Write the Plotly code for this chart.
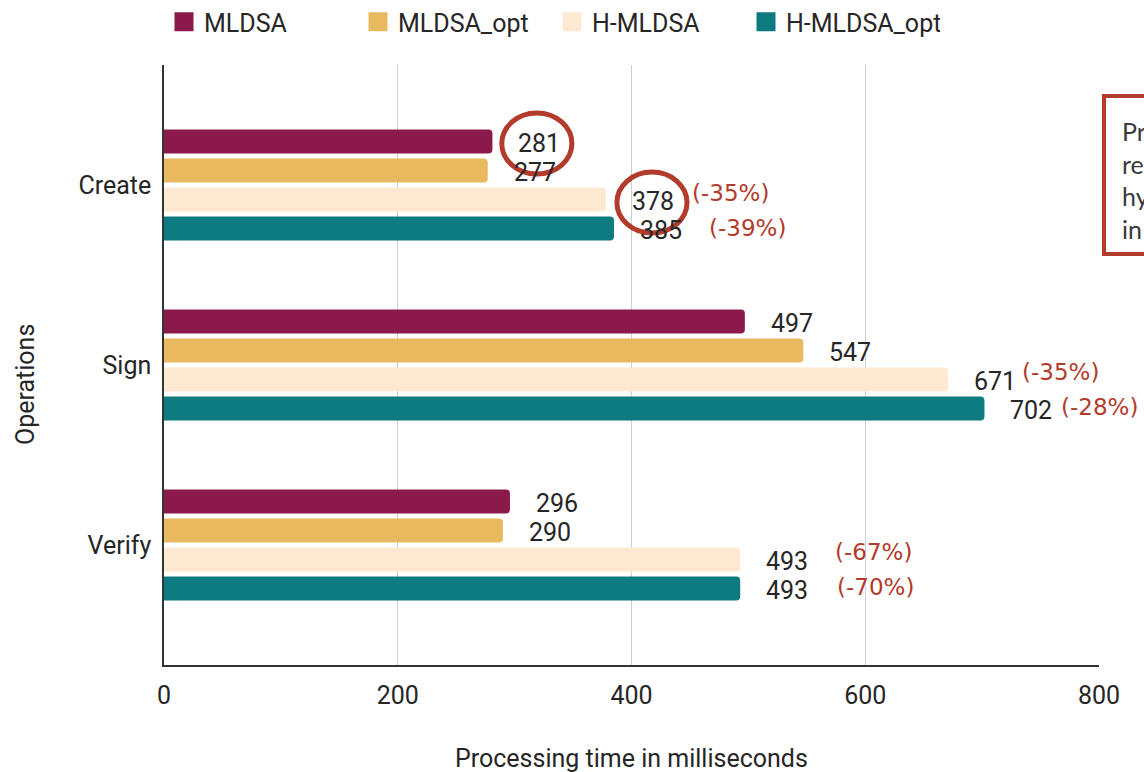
import plotly.graph_objects as go

# Processing time (ms) per operation and implementation
operations = ["Create", "Sign", "Verify"]
series_names = ["MLDSA", "MLDSA_opt", "H-MLDSA", "H-MLDSA_opt"]
mldsa = [281, 497, 296]
mldsa_opt = [277, 547, 290]
h_mldsa = [378, 671, 493]
h_mldsa_opt = [385, 702, 493]

# Relative overhead notes for the hybrid variants
h_mldsa_pct = ["(-35%)", "(-35%)", "(-67%)"]
h_mldsa_opt_pct = ["(-39%)", "(-28%)", "(-70%)"]

x_ticks = [0, 200, 400, 600, 800]

colors = ["#8B1A4B", "#E9B960", "#FDE8D2", "#0E7B80"]
series_values = [mldsa, mldsa_opt, h_mldsa, h_mldsa_opt]

RED = "#B23B2C"
TEXT = "#262626"
FONT = "Roboto"
NOTE_FONT = "DejaVu Sans"
BOX_FONT = "Lato"
FS = 25

fig = go.Figure()

for name, vals, col in zip(series_names, series_values, colors):
    fig.add_trace(go.Bar(
        name=name, y=operations, x=vals, orientation="h",
        marker=dict(color=col, line=dict(width=0)),
        showlegend=False, hoverinfo="x+name",
    ))
    # legend entry with a larger square swatch
    fig.add_trace(go.Scatter(
        name=name, x=[None], y=[None], mode="markers",
        marker=dict(symbol="square", size=22, color=col, line=dict(color=col, width=3)),
        showlegend=True,
    ))

# geometry of the grouped bars (px per category = 180)
cat_px = 180
bargap = 0.356
n = len(series_names)
slot_px = (1 - bargap) * cat_px / n
offsets = [(i - (n - 1) / 2) * slot_px for i in range(n)]

annotations = []
for si, vals in enumerate(series_values):
    for ci, v in enumerate(vals):
        annotations.append(dict(
            x=v, y=operations[ci], xref="x", yref="y",
            text=str(v), showarrow=False, xanchor="left",
            xshift=24, yshift=-offsets[si] - 2,
            font=dict(family=FONT, size=FS, color=TEXT),
        ))

# percentage notes next to the hybrid bars
pct_x_h = [450, 732, 572]
pct_x_hopt = [465, 766, 574]
for ci in range(len(operations)):
    annotations.append(dict(
        x=pct_x_h[ci], y=operations[ci], xref="x", yref="y",
        text=h_mldsa_pct[ci], showarrow=False, xanchor="left",
        yshift=-offsets[2] + 7,
        font=dict(family=NOTE_FONT, size=23, color=RED),
    ))
    annotations.append(dict(
        x=pct_x_hopt[ci], y=operations[ci], xref="x", yref="y",
        text=h_mldsa_opt_pct[ci], showarrow=False, xanchor="left",
        yshift=-offsets[3] + 1,
        font=dict(family=NOTE_FONT, size=23, color=RED),
    ))

# axis titles
annotations.append(dict(
    x=0.5, y=(665 - 758) / 600, xref="paper", yref="paper",
    text="Processing time in milliseconds", showarrow=False,
    xanchor="center", yanchor="middle",
    font=dict(family=FONT, size=FS, color=TEXT),
))
annotations.append(dict(
    x=(25 - 164) / 935, y=(665 - 385) / 600, xref="paper", yref="paper",
    text="Operations", textangle=-90, showarrow=False,
    xanchor="center", yanchor="middle",
    font=dict(family=FONT, size=FS, color=TEXT),
))

# partially visible callout box on the right
annotations.append(dict(
    x=(1120 - 164) / 935, y=(665 - 180) / 600, xref="paper", yref="paper",
    text="Pr<br>re<br>hy<br>in", showarrow=False, align="left",
    xanchor="left", yanchor="middle",
    font=dict(family=BOX_FONT, size=25, color="#3a3a3a"),
))

shapes = [
    dict(type="circle", xref="x", yref="y", x0=289, x1=349, y0=-0.40, y1=-0.061,
         line=dict(color=RED, width=5)),
    dict(type="circle", xref="x", yref="y", x0=387.5, x1=447.5, y0=-0.072, y1=0.267,
         line=dict(color=RED, width=5)),
    dict(type="rect", xref="paper", yref="paper",
         x0=(1104 - 164) / 935, x1=(1200 - 164) / 935,
         y0=(665 - 254) / 600, y1=(665 - 96) / 600,
         line=dict(color=RED, width=4)),
]

fig.update_layout(
    width=1144, height=772,
    margin=dict(l=164, r=45, t=65, b=107),
    paper_bgcolor="white", plot_bgcolor="white",
    barmode="group", bargap=bargap, bargroupgap=0.17, barcornerradius=4,
    font=dict(family=FONT, size=FS, color=TEXT),
    legend=dict(orientation="h", x=164 / 1144, xref="container",
                y=1 - 22 / 772, yref="container", yanchor="middle", xanchor="left",
                font=dict(family=FONT, size=FS, color=TEXT),
                itemwidth=30, tracegroupgap=0,
                entrywidth=149, entrywidthmode="pixels"),
    annotations=annotations,
    shapes=shapes,
    showlegend=True,
)

fig.update_xaxes(
    range=[0, 800], tickvals=x_ticks, ticktext=[str(t) for t in x_ticks],
    showgrid=True, gridcolor="#cfcfcf", gridwidth=1,
    zeroline=False, showline=True, linecolor="#333333", linewidth=1.5,
    ticks="", ticklabelstandoff=7,
    tickfont=dict(family=FONT, size=FS, color=TEXT),
)
fig.update_yaxes(
    type="category", categoryorder="array", categoryarray=operations,
    range=[2.667, -0.667],
    showgrid=False, zeroline=False, showline=True, linecolor="#333333", linewidth=1.5,
    ticks="", ticklabelstandoff=6,
    tickfont=dict(family=FONT, size=FS, color=TEXT),
)

fig.write_html("out.html")
